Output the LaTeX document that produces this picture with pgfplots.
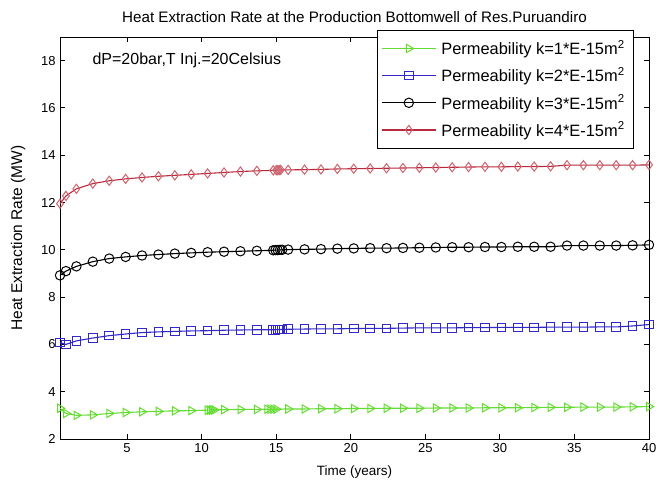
\documentclass[border=0pt]{standalone}
\usepackage{pgfplots}
\pgfplotsset{compat=1.18}
\usepackage{fontspec}
\setmainfont{Liberation Sans}

\definecolor{kgreen}{RGB}{100,220,50}
\definecolor{kblue}{RGB}{50,40,200}
\definecolor{kred}{RGB}{185,40,60}
\definecolor{kredmark}{RGB}{205,100,110}

\begin{document}
\fontsize{12.5}{15}\selectfont
\begin{tikzpicture}[x=1pt,y=1pt]
\useasboundingbox (0,0) rectangle (669,487);
\begin{axis}[
  at={(60pt,48pt)}, anchor=south west,
  scale only axis, width=589pt, height=402pt,
  xmin=0.5, xmax=40, ymin=2, ymax=19,
  xtick={5,10,...,40}, ytick={2,4,...,18},
  tick align=inside, xtick pos=both, ytick pos=both,
  major tick length=5pt,
  axis line style={line width=0.9pt},
  every tick/.style={black, line width=0.9pt},
  /pgf/number format/assume math mode=true,
  tick label style={font=\fontsize{13}{15}\selectfont},
  legend cell align=left,
  legend style={at={(axis description cs:0.538,1.0174)}, anchor=north west,
    draw=black, line width=0.8pt, fill=white,
    font=\fontsize{16.4}{19}\selectfont,
    row sep=7pt, inner xsep=4pt, inner ysep=8pt,
    nodes={inner xsep=5pt}},
  legend image code/.code={\draw[mark repeat=2,mark phase=2,#1]
    plot coordinates {(0pt,0pt) (27pt,0pt) (54pt,0pt)};},
  clip=false,
]
\addplot[kgreen, line width=1.1pt, mark=triangle, mark size=4.8pt,
  mark options={rotate=-90, solid, line width=1pt}] coordinates {
(0.5,3.30)(0.9,3.08)(1.6,3.00)(2.7,3.02)(3.8,3.08)(4.9,3.12)(6.0,3.15)(7.1,3.17)(8.2,3.19)(9.3,3.20)(10.4,3.22)(10.55,3.22)(10.7,3.23)(10.85,3.23)(11.5,3.24)(12.6,3.25)(13.7,3.25)(14.4,3.26)(14.6,3.26)(14.8,3.26)(15.0,3.26)(15.8,3.27)(16.9,3.27)(18.0,3.28)(19.1,3.28)(20.2,3.29)(21.3,3.29)(22.4,3.30)(23.5,3.30)(24.6,3.30)(25.7,3.31)(26.8,3.31)(27.9,3.31)(29.0,3.32)(30.1,3.32)(31.2,3.32)(32.3,3.33)(33.4,3.34)(34.5,3.34)(35.6,3.35)(36.7,3.35)(37.8,3.35)(38.9,3.36)(40.0,3.37)};
\addlegendentry{Permeability k=1*E-15m\textsuperscript{2}}
\addplot[kblue, line width=1.1pt, mark=square, mark size=4.3pt,
  mark options={line width=1pt}] coordinates {
(0.5,6.08)(0.9,6.00)(1.6,6.15)(2.7,6.27)(3.8,6.37)(4.9,6.44)(6.0,6.50)(7.1,6.53)(8.2,6.55)(9.3,6.57)(10.4,6.58)(11.5,6.60)(12.6,6.61)(13.7,6.62)(14.8,6.62)(14.95,6.62)(15.1,6.63)(15.25,6.63)(15.4,6.63)(15.8,6.64)(16.9,6.65)(18.0,6.66)(19.1,6.66)(20.2,6.67)(21.3,6.68)(22.4,6.68)(23.5,6.69)(24.6,6.70)(25.7,6.70)(26.8,6.70)(27.9,6.71)(29.0,6.71)(30.1,6.72)(31.2,6.72)(32.3,6.72)(33.4,6.73)(34.5,6.73)(35.6,6.73)(36.7,6.74)(37.8,6.74)(38.9,6.78)(40.0,6.84)};
\addlegendentry{Permeability k=2*E-15m\textsuperscript{2}}
\addplot[black, line width=1.1pt, mark=o, mark size=4.7pt,
  mark options={line width=1pt}] coordinates {
(0.5,8.92)(0.9,9.10)(1.6,9.30)(2.7,9.50)(3.8,9.63)(4.9,9.70)(6.0,9.76)(7.1,9.80)(8.2,9.84)(9.3,9.87)(10.4,9.90)(11.5,9.92)(12.6,9.94)(13.7,9.96)(14.8,9.98)(14.95,9.99)(15.1,9.99)(15.25,10.0)(15.4,10.0)(15.8,10.01)(16.9,10.02)(18.0,10.03)(19.1,10.05)(20.2,10.06)(21.3,10.07)(22.4,10.07)(23.5,10.08)(24.6,10.09)(25.7,10.10)(26.8,10.11)(27.9,10.11)(29.0,10.12)(30.1,10.12)(31.2,10.13)(32.3,10.13)(33.4,10.13)(34.5,10.18)(35.6,10.18)(36.7,10.18)(37.8,10.18)(38.9,10.19)(40.0,10.21)};
\addlegendentry{Permeability k=3*E-15m\textsuperscript{2}}
\addplot[kred, line width=1.1pt, mark=diamond, mark size=4.6pt,
  mark options={kredmark, line width=1pt}] coordinates {
(0.5,11.95)(0.9,12.28)(1.6,12.58)(2.7,12.80)(3.8,12.92)(4.9,13.00)(6.0,13.06)(7.1,13.11)(8.2,13.15)(9.3,13.19)(10.4,13.23)(11.5,13.27)(12.6,13.31)(13.7,13.34)(14.8,13.36)(15.0,13.37)(15.1,13.37)(15.2,13.37)(15.3,13.38)(15.8,13.38)(16.9,13.39)(18.0,13.40)(19.1,13.42)(20.2,13.43)(21.3,13.44)(22.4,13.45)(23.5,13.46)(24.6,13.47)(25.7,13.48)(26.8,13.49)(27.9,13.50)(29.0,13.51)(30.1,13.51)(31.2,13.52)(32.3,13.52)(33.4,13.53)(34.5,13.58)(35.6,13.58)(36.7,13.58)(37.8,13.58)(38.9,13.58)(40.0,13.59)};
\addlegendentry{Permeability k=4*E-15m\textsuperscript{2}}
\node[anchor=west, inner sep=0pt, font=\fontsize{16}{18}\selectfont]
  at (axis cs:2.67,18) {dP=20bar,T Inj.=20Celsius};
\node[font=\fontsize{15.2}{18}\selectfont] at (axis description cs:0.5,1) [yshift=20pt]
  {Heat Extraction Rate at the Production Bottomwell of Res.Puruandiro};
\node[font=\fontsize{13.5}{16}\selectfont] at (axis description cs:0.5,0) [yshift=-33pt]
  {Time (years)};
\node[font=\fontsize{15.5}{18}\selectfont] at (axis description cs:0,0.5) [xshift=-42pt, rotate=90]
  {Heat Extraction Rate (MW)};
\end{axis}
\end{tikzpicture}
\end{document}
